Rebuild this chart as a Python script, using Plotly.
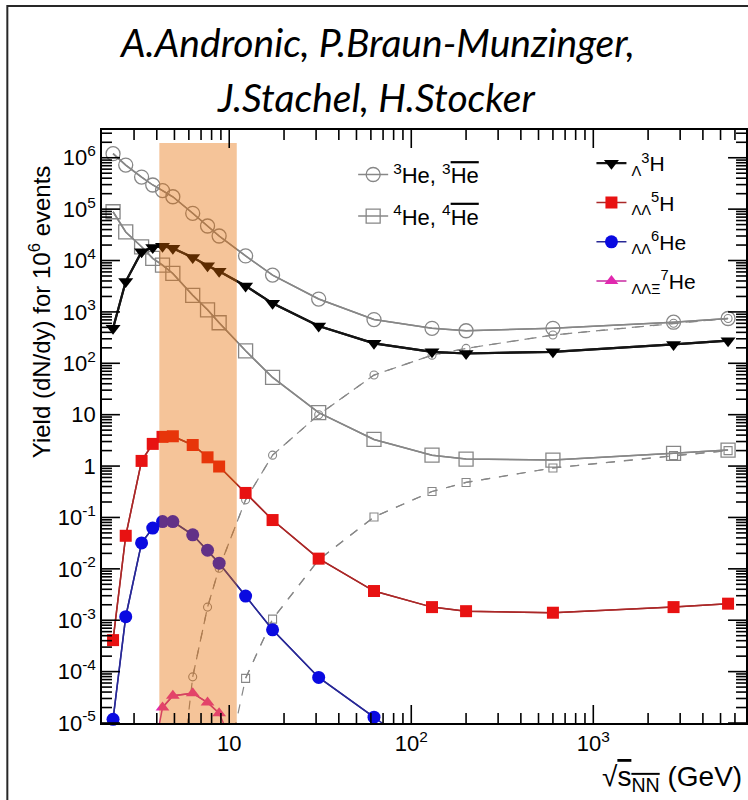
import math
import plotly.graph_objects as go

# ---------------- data ----------------
energy = [2.3, 2.7, 3.3, 3.8, 4.3, 4.9, 6.3, 7.6, 8.8, 12.3, 17.3, 31, 62.4, 130, 200, 600, 2760, 5500]

he3 = [1.2e6, 7.2e5, 4.2e5, 2.95e5, 2.3e5, 1.74e5, 8.3e4, 4.7e4, 3.0e4, 1.23e4, 5.2e3, 1.78e3,
       710, 480, 430, 480, 630, 745]
he3bar = [None, None, None, None, None, 3e-8, 7.9e-5, 1.8e-3, 0.0103, 0.22, 1.63, 10,
          59, 144, 195, 355, 600, 745]
he4 = [8.9e4, 3.6e4, 1.85e4, 1.1e4, 8.1e3, 5.6e3, 2.1e3, 1.1e3, 615, 175, 53, 11,
       3.3, 1.63, 1.37, 1.31, 1.77, 2.05]
he4bar = [None, None, None, None, None, None, None, None, 3e-7, 7.4e-5, 1.05e-3, 0.015,
          0.102, 0.32, 0.48, 0.92, 1.6, 2.0]
h3L = [480, 3.9e3, 1.48e4, 1.8e4, 1.9e4, 1.73e4, 1.15e4, 7.9e3, 6.2e3, 3.2e3, 1.47e3, 530,
       245, 167, 155, 167, 233, 275]
h5LL = [4.1e-4, 0.044, 1.26, 2.7, 3.7, 3.8, 2.57, 1.48, 0.98, 0.30, 0.089, 0.0158,
        3.7e-3, 1.8e-3, 1.5e-3, 1.4e-3, 1.8e-3, 2.1e-3]
he6LL = [1.18e-5, 1.17e-3, 0.032, 0.062, 0.083, 0.083, 0.046, 0.023, 0.0129, 2.95e-3, 6.5e-4,
         7.7e-5, 1.3e-5, 2e-6, None, None, None, None]
he7LLX = [None, None, None, 2e-6, 2.0e-5, 3.4e-5, 3.8e-5, 2.5e-5, 1.55e-5, 1e-6,
          None, None, None, None, None, None, None, None]

band_energy = [4.13, 11.0]

y_tickvals = [1e6, 1e5, 1e4, 1e3, 1e2, 10, 1, 0.1, 0.01, 1e-3, 1e-4, 1e-5]
y_ticktext = ["10<sup>6</sup>", "10<sup>5</sup>", "10<sup>4</sup>", "10<sup>3</sup>", "10<sup>2</sup>",
              "10", "1", "10<sup>-1</sup>", "10<sup>-2</sup>", "10<sup>-3</sup>", "10<sup>-4</sup>",
              "10<sup>-5</sup>"]
x_tickvals = [10, 100, 1000]
x_ticktext = ["10", "10<sup>2</sup>", "10<sup>3</sup>"]

YMIN, YMAX = -5.0, 6.54
XMIN, XMAX = math.log10(2.0), math.log10(6900)

FONT = "Liberation Sans, Arial, sans-serif"
GREY = "rgb(135,135,135)"

W, H = 748, 800
ML, MR, MT, MB = 102, 0, 130, 77
PW, PH = W - ML - MR, H - MT - MB

fig = go.Figure()


def in_range(xs, ys):
    px, py = [], []
    for x, y in zip(xs, ys):
        if y is None:
            continue
        ly = math.log10(y)
        if YMIN - 0.05 <= ly <= YMAX:
            px.append(x)
            py.append(y)
    return px, py


def add_series(ys, name, color, lcolor, lwidth, symbol, size, dash="solid",
               legend=None, mline=0):
    xs = energy
    fig.add_trace(go.Scatter(x=xs, y=ys, mode="lines", showlegend=False,
                             line=dict(color=lcolor, width=lwidth, dash=dash),
                             hoverinfo="skip"))
    px, py = in_range(xs, ys)
    mk = dict(symbol=symbol, size=size, color=color, line=dict(color=color, width=mline))
    fig.add_trace(go.Scatter(x=px, y=py, mode="lines+markers", name=name,
                             showlegend=legend is not None,
                             legend=legend if legend else "legend",
                             legendgroup=name if name else None,
                             line=dict(color=lcolor, width=lwidth, dash=dash),
                             marker=mk, cliponaxis=False))


ovl = "<span style='text-decoration:overline'>He</span>"
add_series(he3bar, "", GREY, GREY, 1.2, "circle-open", 8, dash="dash", mline=1.1)
add_series(he4bar, "", GREY, GREY, 1.2, "square-open", 8, dash="dash", mline=1.1)
add_series(he3, "<sup>3</sup>He, <sup>3</sup>" + ovl, GREY, GREY, 1.5, "circle-open", 14,
           legend="legend", mline=1.3)
add_series(he4, "<sup>4</sup>He, <sup>4</sup>" + ovl, GREY, GREY, 1.5, "square-open", 14,
           legend="legend", mline=1.3)
add_series(h3L, "<sub>Λ</sub><sup>3</sup>H", "black", "rgb(20,20,20)", 2.2, "triangle-down", 13,
           legend="legend2")
add_series(h5LL, "<sub>ΛΛ</sub><sup>5</sup>H", "rgb(232,18,18)", "rgb(170,40,40)", 1.5, "square", 12,
           legend="legend2")
add_series(he6LL, "<sub>ΛΛ</sub><sup>6</sup>He", "rgb(10,10,225)", "rgb(40,40,150)", 1.5, "circle", 13,
           legend="legend2")
add_series(he7LLX, "<sub>ΛΛΞ</sub><sup>7</sup>He", "rgb(225,40,175)", "rgb(200,40,160)", 1.5,
           "triangle-up", 12, legend="legend2")

# orange band (drawn above the data, semi-transparent)
fig.add_shape(type="rect", xref="x", yref="paper", x0=band_energy[0], x1=band_energy[1],
              y0=0, y1=0.978, fillcolor="rgba(230,108,0,0.4)", line=dict(width=0),
              layer="above")

# outer frame of the picture
fig.add_shape(type="rect", xref="paper", yref="paper", x0=-0.147, x1=1.02, y0=-0.2, y1=1.209,
              line=dict(color="rgb(40,40,40)", width=2), fillcolor="rgba(0,0,0,0)", layer="below")

# ---- inward ROOT-style tick marks on all four sides, as thin filled bars ----
MAJ, MIN_ = 18, 10
HALF = 0.8  # half tick thickness in px
dx_per_px = (XMAX - XMIN) / PW
dy_per_px = (YMAX - YMIN) / PH
hx = 10 ** (HALF * dx_per_px)
hy = 10 ** (HALF * dy_per_px)
TK = dict(fillcolor="black", line=dict(width=0), layer="above", type="rect")

for e in range(0, 4):
    for m in range(1, 10):
        v = m * 10 ** e
        if XMIN < math.log10(v) < XMAX:
            ln = (MAJ if m == 1 else MIN_) / PH
            fig.add_shape(xref="x", yref="paper", x0=v / hx, x1=v * hx, y0=0, y1=ln, **TK)
            fig.add_shape(xref="x", yref="paper", x0=v / hx, x1=v * hx, y0=1 - ln, y1=1, **TK)
for e in range(-5, 7):
    for m in range(1, 10):
        v = m * 10 ** e
        if YMIN <= math.log10(v) < YMAX:
            ln = (MAJ if m == 1 else MIN_) / PW
            fig.add_shape(xref="paper", yref="y", y0=v / hy, y1=v * hy, x0=0, x1=ln, **TK)
            fig.add_shape(xref="paper", yref="y", y0=v / hy, y1=v * hy, x0=1 - ln, x1=1, **TK)

axis_common = dict(showgrid=False, zeroline=False, showline=True, linecolor="black", linewidth=1.5,
                   ticks="", mirror=True, tickfont=dict(family=FONT, size=22, color="black"))

fig.update_xaxes(type="log", range=[XMIN, XMAX], tickmode="array", tickvals=x_tickvals,
                 ticktext=x_ticktext, **axis_common)
fig.update_yaxes(type="log", range=[YMIN, YMAX], tickmode="array", tickvals=y_tickvals,
                 ticktext=y_ticktext, **axis_common)

title_font = dict(family="Lato, sans-serif", size=39, color="black")
fig.add_annotation(text="<i>A.Andronic, P.Braun-Munzinger,</i>", xref="paper", yref="paper",
                   x=0.427, y=1.148, xanchor="center", yanchor="middle", showarrow=False,
                   font=title_font)
fig.add_annotation(text="<i>J.Stachel, H.Stocker</i>", xref="paper", yref="paper",
                   x=0.426, y=1.056, xanchor="center", yanchor="middle", showarrow=False,
                   font=title_font)
fig.add_annotation(text="Yield (dN/dy) for 10<sup>6</sup> events", xref="paper", yref="paper",
                   x=-0.096, y=0.693, xanchor="center", yanchor="middle", textangle=-90,
                   showarrow=False, font=dict(family=FONT, size=24, color="black"))
fig.add_annotation(text="√<span style='text-decoration:overline'>s<sub>NN</sub></span> (GeV)",
                   xref="paper", yref="paper", x=0.997, y=-0.093, xanchor="right",
                   yanchor="middle", showarrow=False,
                   font=dict(family=FONT, size=28, color="black"))

fig.update_layout(
    width=W, height=H,
    margin=dict(l=ML, r=MR, t=MT, b=MB),
    paper_bgcolor="white", plot_bgcolor="white",
    showlegend=True,
    legend=dict(x=0.39, y=0.96, xanchor="left", yanchor="top", bgcolor="rgba(0,0,0,0)",
                font=dict(family=FONT, size=22, color="black"), tracegroupgap=10,
                itemsizing="trace"),
    legend2=dict(x=0.76, y=0.978, xanchor="left", yanchor="top", bgcolor="rgba(0,0,0,0)",
                 font=dict(family=FONT, size=21, color="black"), tracegroupgap=9,
                 itemsizing="trace"),
)

fig.write_html("out.html")
